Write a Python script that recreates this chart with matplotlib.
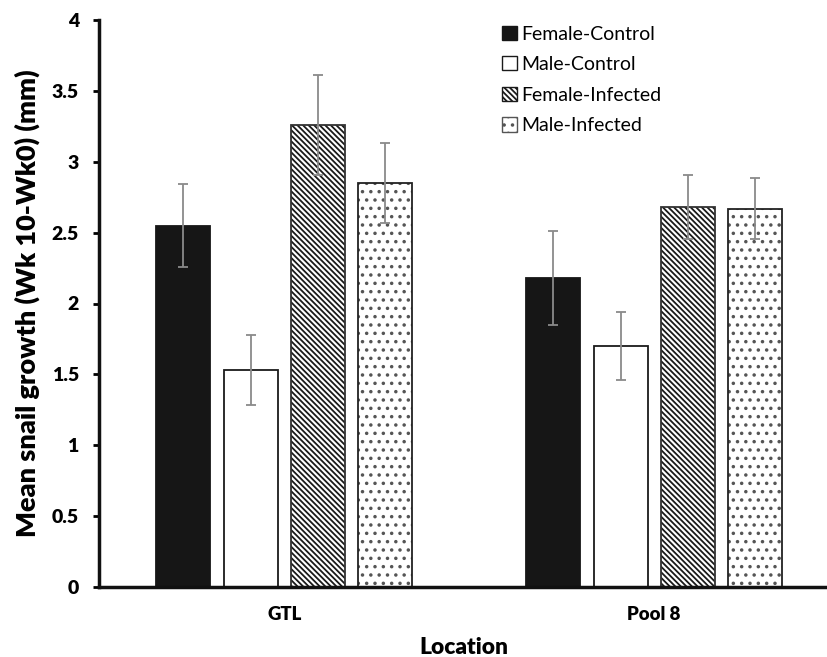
import numpy as np
import matplotlib
matplotlib.use("Agg")
import matplotlib.pyplot as plt
from matplotlib.patches import Patch

# data
locations = ["GTL", "Pool 8"]
groups = ["Female-Control", "Male-Control", "Female-Infected", "Male-Infected"]
means = {
    "Female-Control": [2.55, 2.18],
    "Male-Control": [1.53, 1.70],
    "Female-Infected": [3.26, 2.68],
    "Male-Infected": [2.85, 2.67],
}
errors = {
    "Female-Control": [0.29, 0.33],
    "Male-Control": [0.245, 0.237],
    "Female-Infected": [0.35, 0.223],
    "Male-Infected": [0.285, 0.215],
}
yticks = [0, 0.5, 1, 1.5, 2, 2.5, 3, 3.5, 4]
ytick_labels = ["0", "0.5", "1", "1.5", "2", "2.5", "3", "3.5", "4"]

# fill, hatch colour, hatch, outline
styles = {
    "Female-Control": ("#161616", "#161616", None, "#161616"),
    "Male-Control": ("white", "white", None, "#1a1a1a"),
    "Female-Infected": ("white", "#1a1a1a", "\\" * 6, "#333333"),
    "Male-Infected": ("white", "#555555", "..", "#222222"),
}

plt.rcParams["font.family"] = ["Lato", "DejaVu Sans"]
plt.rcParams["hatch.linewidth"] = 1.3

fig = plt.figure(figsize=(8.28, 6.57), dpi=100)
ax = fig.add_axes([99 / 828, 70 / 657, 1 - 99 / 828, 567 / 657])

x = np.arange(len(locations))
width = 0.146
step = 0.182

handles = []
for i, g in enumerate(groups):
    fill, hcol, hatch, edge = styles[g]
    pos = x + (i - 1.5) * step
    # hatched fill first, then the outline on top
    ax.bar(pos, means[g], width, color=fill, edgecolor=hcol, hatch=hatch,
           linewidth=0, zorder=2)
    ax.bar(pos, means[g], width, fill=False, edgecolor=edge, linewidth=1.3, zorder=2.5)
    ax.errorbar(pos, means[g], yerr=errors[g], fmt="none", ecolor="#8a8a8a",
                elinewidth=1.3, capsize=3.5, capthick=1.3, zorder=3)
    handles.append(Patch(facecolor=fill, edgecolor=edge if hatch is None else hcol,
                         hatch=hatch, linewidth=1.0, label=g))

ax.set_xlim(-0.501, 1.47)
ax.set_ylim(0, 4)
ax.set_yticks(yticks)
ax.set_yticklabels(ytick_labels, fontsize=14, fontweight="heavy")
ax.set_xticks(x)
ax.set_xticklabels(locations, fontsize=13.4, fontweight="heavy")
ax.tick_params(axis="x", length=0, pad=14)
ax.tick_params(axis="y", length=4.5, width=2, direction="out", pad=10)

for s in ["top", "right"]:
    ax.spines[s].set_visible(False)
for s in ["left", "bottom"]:
    ax.spines[s].set_linewidth(2.5)
    ax.spines[s].set_color("#111111")

ax.set_ylabel("Mean snail growth (Wk 10-Wk0) (mm)", fontsize=19.5, fontweight="heavy", labelpad=8)
ax.set_xlabel("Location", fontsize=16.4, fontweight="heavy", labelpad=10)

ax.legend(handles=handles, loc="upper left", bbox_to_anchor=(0.5425, 1.004), frameon=False,
          fontsize=14, handlelength=0.75, handleheight=0.75, handletextpad=0.25,
          labelspacing=0.7, borderaxespad=0)

fig.savefig("out.png", dpi=100)
